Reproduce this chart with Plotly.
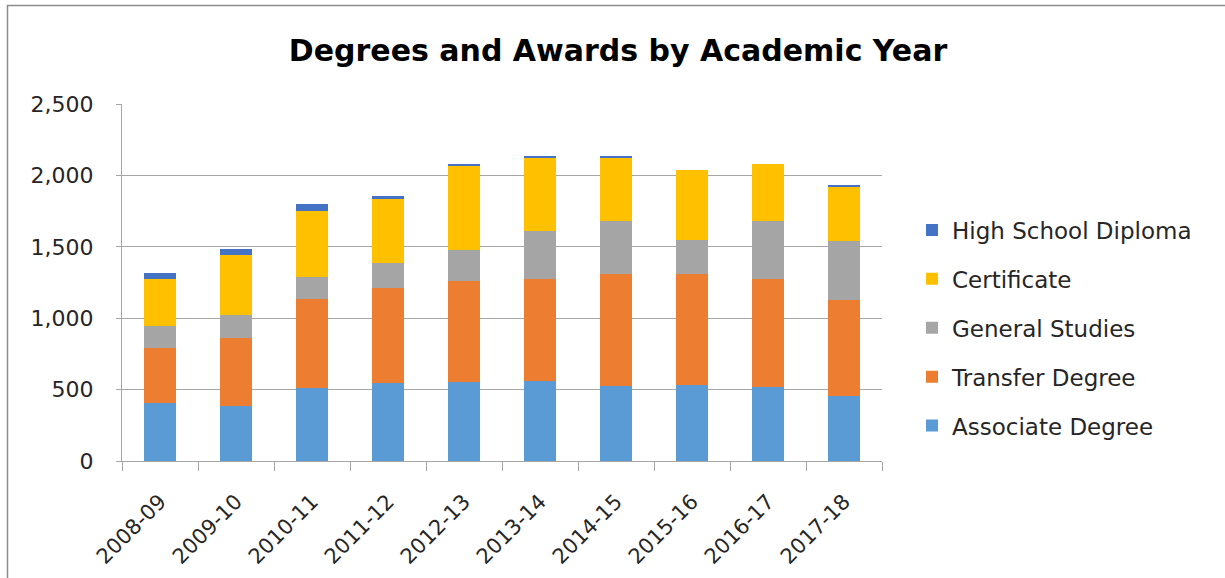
import plotly.graph_objects as go

years = ["2008-09", "2009-10", "2010-11", "2011-12", "2012-13",
         "2013-14", "2014-15", "2015-16", "2016-17", "2017-18"]
associate = [404, 385, 509, 544, 555, 562, 527, 534, 518, 457]
transfer = [385, 476, 628, 665, 708, 710, 783, 776, 754, 673]
general = [158, 161, 152, 180, 217, 341, 369, 240, 407, 411]
certificate = [325, 421, 460, 446, 591, 514, 448, 486, 401, 378]
hs_diploma = [47, 44, 53, 23, 9, 9, 9, 0, 0, 12]

series = [
    ("Associate Degree", associate, "#5B9BD5"),
    ("Transfer Degree", transfer, "#ED7D31"),
    ("General Studies", general, "#A5A5A5"),
    ("Certificate", certificate, "#FFC000"),
    ("High School Diploma", hs_diploma, "#4472C4"),
]

FONT = "'DejaVu Sans', Verdana, sans-serif"

fig = go.Figure()
n = len(series)
for i, (name, vals, col) in enumerate(series):
    fig.add_trace(go.Bar(x=years, y=vals, name=name, legendgroup=name,
                         legendrank=n - i,
                         marker=dict(color=col, line=dict(width=0))))

W, H = 1225, 578
L, R, T, B = 122, 882, 104, 461

def px(x):
    return (x - L) / (R - L)

def py(y):
    return (B - y) / (B - T)

fig.update_layout(
    width=W, height=H,
    barmode="stack", bargap=0.59,
    paper_bgcolor="white", plot_bgcolor="white",
    margin=dict(l=L, r=W - R, t=T, b=H - B, pad=0, autoexpand=False),
    font=dict(family=FONT, color="#262626"),
    title=dict(text="<b>Degrees and Awards by Academic Year</b>",
               x=618 / W, xanchor="center", y=1 - 50 / H, yanchor="middle",
               font=dict(size=30, color="black", family=FONT)),
    legend=dict(traceorder="grouped", x=px(912), xanchor="left",
                y=py(328), yanchor="middle", font=dict(size=23, color="#262626"),
                itemwidth=30, tracegroupgap=16, bgcolor="rgba(0,0,0,0)"),
    showlegend=True,
)
fig.update_xaxes(
    type="category", showline=True, linecolor="#A6A6A6", linewidth=1,
    ticks="outside", tickson="boundaries", ticklen=9, tickcolor="#A6A6A6",
    tickangle=-45, tickfont=dict(size=21, color="#262626"), showgrid=False,
    ticklabelstandoff=19, automargin=False,
)
fig.update_yaxes(
    range=[0, 2500], dtick=500, tickformat=",", showline=True, linecolor="#A6A6A6",
    linewidth=1, ticks="outside", ticklen=5, tickcolor="#A6A6A6",
    showgrid=True, gridcolor="#A6A6A6", gridwidth=1,
    tickfont=dict(size=22, color="#262626"), zeroline=False,
    ticklabelstandoff=18, automargin=False,
)

fig.add_shape(type="rect", xref="paper", yref="paper",
              x0=px(7.5), x1=px(1240), y0=py(5.5), y1=py(600),
              line=dict(color="#8C8C8C", width=1.5), fillcolor="rgba(0,0,0,0)", layer="below")

fig.write_html("out.html", config={"displayModeBar": False},
               post_script="document.body.style.margin='0';")
